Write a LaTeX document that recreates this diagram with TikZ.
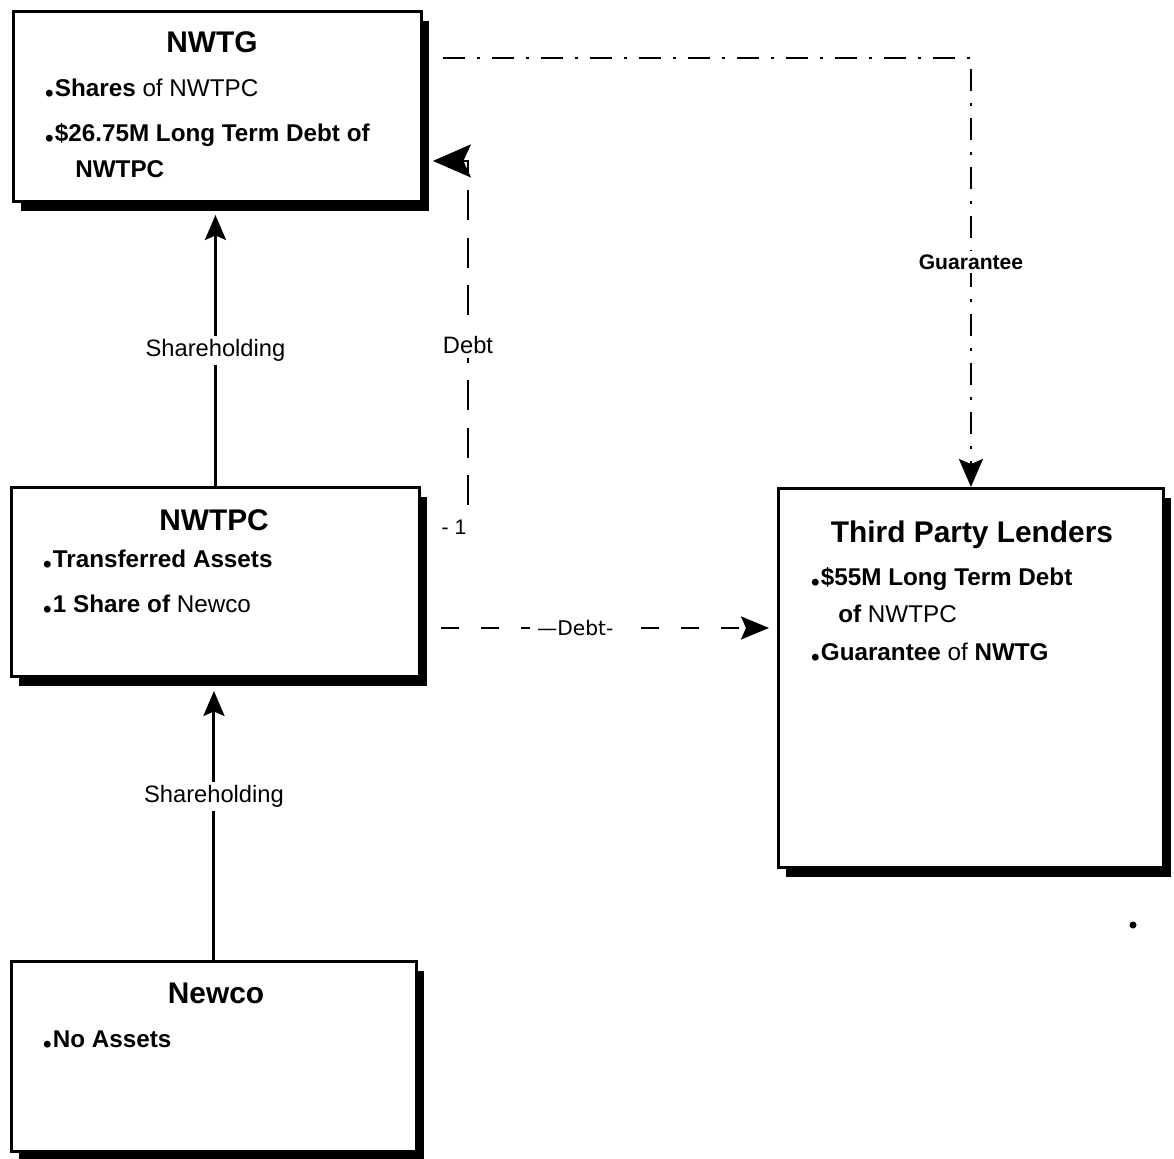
\documentclass[tikz,border=0pt]{standalone}
\usepackage{fontspec}
\setmainfont{Liberation Sans}
\newfontfamily\widefont{DejaVu Sans}
\newfontfamily\dotfont{Liberation Serif}
\usetikzlibrary{arrows.meta, positioning, calc, shadows}

\newcommand{\bul}{{\dotfont\bfseries\fontsize{24}{24}\selectfont .}}

\tikzset{
  entity/.style={draw, line width=1.7pt, fill=white, anchor=north west, inner sep=0pt,
    drop shadow={shadow xshift=4.5pt, shadow yshift=-5.5pt, opacity=1, fill=black}},
  boxtitle/.style={font=\fontsize{17}{20}\selectfont\bfseries, anchor=base, inner sep=0pt},
  item/.style={font=\fontsize{13.8}{16}\selectfont\bfseries, anchor=base west, inner sep=0pt},
  lbl/.style={font=\fontsize{13.5}{16}\selectfont, fill=white, inner sep=2pt},
  owns/.style={line width=1.7pt, -{Stealth[length=0.5cm, width=0.42cm, inset=0.09cm, fill=black]}},
  debtline/.style={line width=1.3pt, dash pattern=on 0.6cm off 0.35cm},
  guarline/.style={line width=1.1pt, dash pattern=on 0.44cm off 0.24cm on 0.06cm off 0.24cm}
}

\begin{document}
\begin{tikzpicture}[x=0.02cm, y=-0.02cm]
\useasboundingbox (0,0) rectangle (1174,1159);

% Entities
\node[entity, minimum width=8.16cm, minimum height=3.8cm] (nwtg) at (12,10) {};
\node[entity, minimum width=8.16cm, minimum height=3.78cm] (nwtpc) at (10,486) {};
\node[entity, minimum width=8.1cm, minimum height=3.8cm] (newco) at (10,960) {};
\node[entity, minimum width=7.7cm, minimum height=7.58cm] (lenders) at (777,487) {};

% Contents
\node[boxtitle] (nwtgT) at (212,53) {NWTG};
\node[item] (nwtgA) at (44,97) {\bul Shares {\mdseries of NWTPC}};
\node[item] (nwtgB) at (44,142) {\bul\$26.75M Long Term Debt of};
\node[item] (nwtgC) at (75,177) {NWTPC};

\node[boxtitle] (nwtpcT) at (214,530) {NWTPC};
\node[item] (nwtpcA) at (42,567) {\bul Transferred Assets};
\node[item] (nwtpcB) at (42,612) {\bul 1 Share of {\mdseries Newco}};

\node[boxtitle] (newcoT) at (216,1003) {Newco};
\node[item] (newcoA) at (42,1047) {\bul No Assets};

\node[boxtitle] (lendersT) at (972,542) {Third Party Lenders};
\node[item] (lendersA) at (810,585) {\bul\$55M Long Term Debt};
\node[item] (lendersB) at (838,622) {of {\mdseries NWTPC}};
\node[item] (lendersC) at (810,660) {\bul Guarantee {\mdseries of} NWTG};

% Shareholding
\draw[owns, shorten >=0.24cm] (nwtpc.north) -- (nwtpc.north |- nwtg.south)
  node[lbl, pos=0.48] (shareA) {Shareholding};
\draw[owns, shorten >=0.26cm] (newco.north) -- (newco.north |- nwtpc.south)
  node[lbl, pos=0.58] (shareB) {Shareholding};

% Debt back to NWTG
\coordinate (debtfoot) at (468,505);
\draw[debtline, -{Stealth[length=0.76cm, width=0.66cm, inset=0.15cm, fill=black]}, shorten >=0.2cm]
  (debtfoot) |- ($(nwtg.south east)+(0,-42)$) node[lbl, pos=0.232] (debtA) {Debt};
\node[font=\fontsize{12}{14}\selectfont] (minusone) at (454,527) {- 1};

% Guarantee
\draw[guarline, -{Stealth[length=0.56cm, width=0.48cm, inset=0.1cm, fill=black]}]
  ($(nwtg.north east)+(20,48)$) -| (lenders.north)
  node[lbl, font=\fontsize{12}{14}\selectfont\bfseries, pos=0.738] (guarA) {Guarantee};

% Debt to lenders
\coordinate (debtstart) at ($(nwtpc.south east)+(20,-50)$);
\draw[line width=1.6pt, dash pattern=on 0.36cm off 0.44cm,
  -{Stealth[length=0.56cm, width=0.46cm, inset=0.1cm, fill=black]}, shorten >=0.16cm]
  (debtstart) -- (debtstart -| lenders.west)
  node[lbl, font=\widefont\fontsize{11.5}{14}\selectfont, pos=0.4, inner xsep=4pt] (debtB) {—Debt-};

% stray mark
\fill (1133,925) circle[radius=0.07cm];
\end{tikzpicture}
\end{document}
